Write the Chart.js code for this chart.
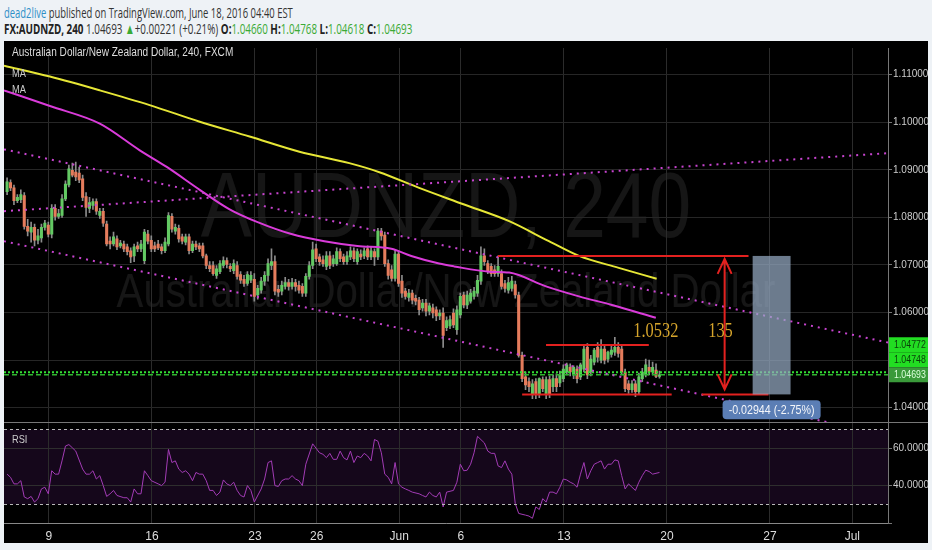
<!DOCTYPE html>
<html>
<head>
<meta charset="utf-8">
<script src="https://cdn.jsdelivr.net/npm/chart.js@4.4.0/dist/chart.umd.min.js"></script>
<style>
  html, body { margin: 0; padding: 0; background: #eef2f6; }
  body { width: 932px; height: 550px; position: relative; overflow: hidden; font-family: 'Open Sans', 'Liberation Sans', sans-serif; }
  .hdr { position: absolute; left: 4px; white-space: nowrap; transform-origin: 0 50%; color: #333; font-size: 15px; line-height: 16px; }
  #l1 { top: 4px; }
  #l2 { top: 20px; }
  .user { color: #2e8fc7; }
  .b { font-weight: bold; color: #222; }
  .g { color: #3aaa35; }
  #wrap { position: absolute; left: 4px; top: 41px; width: 924px; height: 502px; }
</style>
</head>
<body>
<div id="l1" class="hdr"><span class="user">dead2live</span> published on TradingView.com, June 18, 2016 04:40 EST</div>
<div id="l2" class="hdr"><span class="b">FX:AUDNZD, 240</span> 1.04693 <span class="g">▲</span>+0.00221 (+0.21%) <span class="b">O:</span><span class="g">1.04660</span> <span class="b">H:</span><span class="g">1.04768</span> <span class="b">L:</span><span class="g">1.04618</span> <span class="b">C:</span><span class="g">1.04693</span></div>
<div id="wrap"><canvas id="c" width="924" height="502"></canvas></div>
<script>
// 4h bars, x axis counted in trading days from Mon May 9
const firstBarDay = -2.03;
const barsPerDay = 6;

// [open, high, low, close]
const candles = [
  [1.0854,1.0883,1.0848,1.0875],[1.0873,1.0879,1.0856,1.0862],[1.0862,1.0868,1.0827,1.0835],[1.0835,1.0848,1.0831,1.0842],
  [1.0837,1.0858,1.0831,1.0848],[1.0846,1.0852,1.0775,1.0781],[1.0781,1.0796,1.0761,1.0771],[1.0769,1.0790,1.0748,1.0779],
  [1.0779,1.0786,1.0740,1.0752],[1.0752,1.0775,1.0744,1.0761],[1.0757,1.0786,1.0748,1.0779],[1.0779,1.0794,1.0773,1.0788],
  [1.0784,1.0790,1.0759,1.0765],[1.0765,1.0827,1.0757,1.0819],[1.0819,1.0827,1.0794,1.0802],[1.0802,1.0817,1.0798,1.0808],
  [1.0804,1.0848,1.0800,1.0839],[1.0839,1.0877,1.0835,1.0870],[1.0868,1.0910,1.0864,1.0902],[1.0899,1.0914,1.0885,1.0889],
  [1.0895,1.0916,1.0877,1.0885],[1.0893,1.0906,1.0873,1.0879],[1.0881,1.0889,1.0835,1.0842],[1.0844,1.0852,1.0802,1.0821],
  [1.0819,1.0842,1.0810,1.0831],[1.0825,1.0839,1.0817,1.0833],[1.0833,1.0839,1.0806,1.0813],[1.0804,1.0819,1.0798,1.0813],
  [1.0813,1.0819,1.0781,1.0788],[1.0786,1.0792,1.0740,1.0744],[1.0750,1.0759,1.0734,1.0744],[1.0744,1.0769,1.0740,1.0759],
  [1.0755,1.0761,1.0732,1.0738],[1.0740,1.0752,1.0736,1.0746],[1.0744,1.0750,1.0728,1.0734],[1.0738,1.0744,1.0721,1.0728],
  [1.0730,1.0736,1.0705,1.0717],[1.0719,1.0744,1.0707,1.0738],[1.0740,1.0748,1.0728,1.0734],[1.0734,1.0752,1.0728,1.0744],
  [1.0709,1.0775,1.0703,1.0769],[1.0765,1.0773,1.0744,1.0750],[1.0752,1.0761,1.0728,1.0734],[1.0740,1.0748,1.0728,1.0734],
  [1.0744,1.0752,1.0732,1.0736],[1.0738,1.0744,1.0723,1.0730],[1.0730,1.0757,1.0726,1.0748],[1.0744,1.0810,1.0740,1.0804],
  [1.0802,1.0808,1.0769,1.0775],[1.0771,1.0786,1.0765,1.0779],[1.0777,1.0784,1.0748,1.0755],[1.0759,1.0765,1.0744,1.0750],
  [1.0748,1.0765,1.0742,1.0759],[1.0759,1.0765,1.0723,1.0730],[1.0730,1.0750,1.0726,1.0744],[1.0744,1.0750,1.0732,1.0738],
  [1.0740,1.0746,1.0728,1.0734],[1.0740,1.0746,1.0715,1.0719],[1.0719,1.0723,1.0692,1.0699],[1.0699,1.0707,1.0686,1.0692],
  [1.0699,1.0707,1.0678,1.0682],[1.0678,1.0699,1.0672,1.0692],[1.0686,1.0709,1.0682,1.0703],[1.0699,1.0717,1.0694,1.0709],
  [1.0709,1.0715,1.0694,1.0701],[1.0697,1.0703,1.0686,1.0692],[1.0688,1.0711,1.0682,1.0703],[1.0699,1.0707,1.0670,1.0676],
  [1.0680,1.0686,1.0661,1.0668],[1.0670,1.0678,1.0655,1.0661],[1.0661,1.0686,1.0657,1.0680],[1.0668,1.0686,1.0663,1.0678],
  [1.0670,1.0682,1.0624,1.0634],[1.0637,1.0657,1.0628,1.0651],[1.0647,1.0674,1.0641,1.0666],[1.0666,1.0686,1.0657,1.0678],
  [1.0678,1.0713,1.0666,1.0703],[1.0699,1.0734,1.0690,1.0707],[1.0707,1.0719,1.0637,1.0645],[1.0649,1.0657,1.0634,1.0643],
  [1.0645,1.0666,1.0637,1.0657],[1.0655,1.0674,1.0649,1.0663],[1.0663,1.0670,1.0647,1.0655],[1.0655,1.0672,1.0649,1.0663],
  [1.0663,1.0670,1.0645,1.0655],[1.0657,1.0666,1.0641,1.0647],[1.0655,1.0661,1.0634,1.0641],[1.0641,1.0682,1.0634,1.0676],
  [1.0676,1.0707,1.0670,1.0699],[1.0699,1.0748,1.0692,1.0732],[1.0734,1.0744,1.0707,1.0713],[1.0717,1.0723,1.0699,1.0707],
  [1.0711,1.0719,1.0697,1.0703],[1.0697,1.0728,1.0690,1.0719],[1.0719,1.0728,1.0692,1.0699],[1.0703,1.0721,1.0697,1.0713],
  [1.0703,1.0736,1.0699,1.0728],[1.0728,1.0734,1.0707,1.0713],[1.0717,1.0723,1.0701,1.0707],[1.0707,1.0728,1.0701,1.0719],
  [1.0717,1.0738,1.0711,1.0730],[1.0730,1.0736,1.0707,1.0713],[1.0707,1.0734,1.0701,1.0728],[1.0723,1.0732,1.0711,1.0717],
  [1.0719,1.0736,1.0713,1.0730],[1.0734,1.0740,1.0711,1.0717],[1.0717,1.0738,1.0711,1.0730],[1.0728,1.0734,1.0699,1.0717],
  [1.0717,1.0777,1.0711,1.0771],[1.0771,1.0777,1.0752,1.0761],[1.0763,1.0769,1.0697,1.0703],[1.0703,1.0711,1.0670,1.0678],
  [1.0690,1.0699,1.0666,1.0672],[1.0672,1.0732,1.0666,1.0723],[1.0723,1.0730,1.0655,1.0661],[1.0666,1.0678,1.0632,1.0641],
  [1.0645,1.0651,1.0628,1.0634],[1.0632,1.0649,1.0624,1.0641],[1.0641,1.0647,1.0618,1.0626],[1.0630,1.0637,1.0616,1.0624],
  [1.0626,1.0632,1.0595,1.0606],[1.0610,1.0628,1.0603,1.0620],[1.0620,1.0628,1.0593,1.0603],[1.0603,1.0620,1.0595,1.0614],
  [1.0610,1.0618,1.0589,1.0599],[1.0606,1.0612,1.0583,1.0593],[1.0593,1.0606,1.0585,1.0599],[1.0599,1.0610,1.0527,1.0552],
  [1.0568,1.0591,1.0562,1.0583],[1.0572,1.0593,1.0566,1.0585],[1.0599,1.0608,1.0568,1.0574],[1.0564,1.0614,1.0554,1.0606],
  [1.0595,1.0641,1.0589,1.0634],[1.0637,1.0643,1.0610,1.0616],[1.0616,1.0645,1.0608,1.0637],[1.0624,1.0649,1.0620,1.0641],
  [1.0634,1.0653,1.0628,1.0645],[1.0641,1.0678,1.0634,1.0668],[1.0666,1.0738,1.0659,1.0719],[1.0719,1.0734,1.0699,1.0707],
  [1.0703,1.0709,1.0682,1.0688],[1.0697,1.0703,1.0676,1.0682],[1.0690,1.0699,1.0676,1.0682],[1.0682,1.0719,1.0676,1.0697],
  [1.0682,1.0690,1.0649,1.0655],[1.0661,1.0668,1.0643,1.0651],[1.0647,1.0674,1.0641,1.0663],[1.0651,1.0676,1.0645,1.0666],
  [1.0659,1.0666,1.0630,1.0637],[1.0637,1.0643,1.0506,1.0510],[1.0510,1.0517,1.0455,1.0461],[1.0465,1.0475,1.0438,1.0448],
  [1.0455,1.0463,1.0434,1.0444],[1.0428,1.0459,1.0419,1.0450],[1.0455,1.0461,1.0419,1.0428],[1.0428,1.0463,1.0421,1.0461],
  [1.0459,1.0465,1.0434,1.0440],[1.0428,1.0465,1.0419,1.0459],[1.0459,1.0467,1.0421,1.0428],[1.0444,1.0469,1.0434,1.0461],
  [1.0461,1.0471,1.0434,1.0444],[1.0452,1.0477,1.0444,1.0469],[1.0461,1.0490,1.0455,1.0481],[1.0475,1.0494,1.0469,1.0490],
  [1.0485,1.0492,1.0467,1.0475],[1.0469,1.0488,1.0461,1.0485],[1.0481,1.0488,1.0452,1.0461],[1.0465,1.0494,1.0459,1.0490],
  [1.0481,1.0531,1.0475,1.0523],[1.0527,1.0535,1.0461,1.0469],[1.0475,1.0510,1.0467,1.0502],[1.0496,1.0525,1.0490,1.0521],
  [1.0527,1.0537,1.0496,1.0506],[1.0500,1.0543,1.0494,1.0523],[1.0523,1.0531,1.0492,1.0500],[1.0502,1.0519,1.0496,1.0517],
  [1.0512,1.0531,1.0506,1.0521],[1.0517,1.0548,1.0510,1.0527],[1.0527,1.0537,1.0506,1.0514],[1.0523,1.0531,1.0469,1.0475],
  [1.0475,1.0481,1.0434,1.0440],[1.0450,1.0457,1.0430,1.0438],[1.0438,1.0457,1.0432,1.0450],[1.0450,1.0457,1.0423,1.0434],
  [1.0434,1.0473,1.0428,1.0465],[1.0461,1.0483,1.0455,1.0475],[1.0471,1.0502,1.0465,1.0490],[1.0485,1.0500,1.0469,1.0475],
  [1.0475,1.0496,1.0469,1.0485],[1.0479,1.0492,1.0463,1.0466],[1.0466,1.0477,1.0462,1.0469]
];

// moving averages: [day, price]
const maSlow = [[-2.18,1.1119],[0.05,1.1096],[2.47,1.1067],[4.89,1.1036],[7.32,1.1001],[9.74,1.0970],[12.16,1.0938],
  [14.58,1.0914],[16.04,1.0895],[17.97,1.0862],[20.16,1.0827],[22.34,1.0792],[24.27,1.0750],[25.73,1.0719],[27.66,1.0694],[29.5,1.0671]];
const maFast = [[-2.18,1.1067],[0.05,1.1034],[2.47,1.0997],[4.41,1.0941],[5.72,1.0906],[7.32,1.0858],[8.77,1.0817],
  [10.13,1.0790],[11.77,1.0765],[13.37,1.0750],[14.97,1.0740],[16.62,1.0734],[17.59,1.0719],[18.94,1.0703],[19.67,1.0697],
  [21.37,1.0686],[22.34,1.0684],[24.13,1.0655],[25.73,1.0634],[27.33,1.0616],[29.46,1.0589]];

// RSI: bar index and value
const rsiBars = [0,1,2,3,4,5,6,7,8,9,10,11,12,13,14,15,16,17,18,19,20,22,23,24,25,26,27,28,29,30,31,32,34,35,36,37,38,39,
  40,41,42,44,45,46,47,48,49,50,51,52,53,54,55,56,57,58,59,60,61,62,63,64,65,66,67,68,69,70,71,72,74,75,76,77,78,79,80,81,
  82,83,84,85,86,87,89,91,92,93,94,95,96,97,98,99,100,101,102,103,104,105,106,107,108,109,110,111,112,113,114,115,116,117,
  118,120,121,122,123,124,125,126,127,128,130,131,132,133,134,135,136,137,139,140,141,142,143,144,145,146,147,148,149,151,
  152,153,154,155,156,157,158,159,160,161,162,163,164,165,166,167,168,169,170,171,172,173,174,175,176,177,178,179,180,181,
  182,183,184,185,186,187,188,190];
const rsiVals = [46.1,44.4,40.9,40.9,42.6,33.9,33.0,34.2,31.2,33.0,38.2,39.1,35.6,47.9,46.1,46.1,53.2,61.1,61.9,60.2,58.4,
  48.8,46.1,46.1,47.9,43.5,45.3,40.0,34.2,35.6,37.4,34.7,33.5,33.5,31.2,38.2,35.6,35.6,47.9,45.3,42.6,40.9,40.0,41.8,59.3,
  52.3,53.2,48.8,47.0,47.9,46.1,42.6,47.0,46.1,46.1,42.6,37.4,37.4,34.7,36.5,43.0,40.9,40.0,41.8,37.4,34.7,33.9,40.0,37.4,
  31.2,38.2,43.5,52.3,53.2,40.0,39.5,42.6,43.5,43.5,45.3,43.5,42.6,40.0,51.4,62.3,57.5,56.7,54.9,57.2,54.0,54.0,58.4,54.9,
  53.7,58.4,52.3,55.8,54.9,57.2,55.8,53.2,64.6,63.7,57.5,46.1,44.4,40.9,52.3,40.9,39.1,38.2,37.4,36.5,35.6,34.7,33.9,36.5,
  34.7,33.9,36.5,28.6,36.5,37.4,41.8,51.4,47.9,48.2,51.4,57.5,66.3,62.8,58.4,57.2,57.2,50.5,49.6,53.2,48.8,46.1,30.4,25.1,
  24.2,23.7,22.5,28.6,27.2,33.0,31.2,36.5,36.5,35.6,39.1,43.5,43.0,41.8,40.9,39.1,46.1,52.3,43.5,47.9,51.4,52.3,53.2,48.8,
  51.4,51.4,53.7,53.2,45.3,38.2,40.9,39.1,37.4,41.8,45.3,48.2,47.5,46.1,47.0];

// drawings: [day, price]
const upperChannel = [[-2.18,1.0943],[40.73,1.0537]];
const lowerChannel = [[-2.18,1.0750],[37.84,1.0369]];
const risingLine = [[-2.18,1.0813],[40.73,1.0935]];
const targetLine = [[21.80,1.0719],[33.96,1.0719]];
const rangeHigh = [[24.13,1.0532],[29.12,1.0532]];
const rangeLow = [[22.97,1.0428],[30.23,1.0428]];
const rangeLow2 = [[31.69,1.0428],[34.93,1.0428]];
const arrowDay = 32.80;
const arrowPrices = [1.0719, 1.0428];
const boxDays = [34.16, 36.0];
const boxPrices = [1.0428, 1.0719];
const lastHigh = 1.04748;
const lastClose = 1.04693;
const axisMarks = [1.04772, 1.04748, 1.04693];
const noteTexts = [["1.0532", 29.46, 1.0548], ["135", 32.60, 1.0548]];
const changeLabel = ["-0.02944 (-2.75%)", 35.08, 1.0396];

// axes
const dayMin = -2.18, dayMax = 40.73;
const priceMin = 1.0369, priceMax = 1.1156;
const rsiMin = 20, rsiMax = 73.7;
const tickDays = [0, 5, 10, 13, 17, 20, 25, 30, 35, 39];
const tickLabels = ["9", "16", "23", "26", "Jun", "6", "13", "20", "27", "Jul"];
const priceTicks = [1.04, 1.05, 1.06, 1.07, 1.08, 1.09, 1.10, 1.11];
const rsiTicks = [20, 40, 60];

const upColor = "#63c963";
const downColor = "#e57c5c";
const red = "#e3211f";
const narrow = "'Liberation Sans Narrow', 'Arial Narrow', 'Liberation Sans', sans-serif";

function fitLine(id, width) {
  const el = document.getElementById(id);
  el.style.transform = `scaleX(${width / el.offsetWidth})`;
}
fitLine("l1", 289);
fitLine("l2", 408);

const xOf = i => firstBarDay + i / barsPerDay;
const pts = arr => arr.map(p => ({ x: p[0], y: p[1] }));

function squeezeText(ctx, text, x, y, font, color, sx, align, base) {
  ctx.save();
  ctx.font = font;
  ctx.fillStyle = color;
  ctx.textBaseline = base || "middle";
  ctx.textAlign = "left";
  const w = ctx.measureText(text).width * sx;
  let left = x;
  if (align === "center") left = x - w / 2;
  if (align === "right") left = x - w;
  ctx.translate(left, y);
  ctx.scale(sx, 1);
  ctx.fillText(text, 0, 0);
  ctx.restore();
}

const decor = {
  id: "decor",
  beforeDraw(chart) {
    const { ctx, chartArea: a } = chart;
    const ys = chart.scales.y, rs = chart.scales.rsi;
    ctx.save();
    ctx.fillStyle = "#000";
    ctx.fillRect(0, 0, chart.width, chart.height);
    const y70 = rs.getPixelForValue(70), y30 = rs.getPixelForValue(30);
    ctx.fillStyle = "#15071b";
    ctx.fillRect(a.left, y70, a.right - a.left, y30 - y70);
    const cx = (a.left + a.right) / 2;
    const wm = "rgba(255,255,255,0.085)";
    squeezeText(ctx, "AUDNZD, 240", cx, ys.top + 189, "93px 'Liberation Sans'", wm, 0.825, "center", "alphabetic");
    squeezeText(ctx, "Australian Dollar/New Zealand Dollar", cx, ys.top + 259, "49px 'Liberation Sans'", wm, 0.82, "center", "alphabetic");
    ctx.restore();
  },
  afterDatasetsDraw(chart) {
    const { ctx, chartArea: a } = chart;
    const xs = chart.scales.x, ys = chart.scales.y, rs = chart.scales.rsi;
    ctx.save();
    // RSI bands
    ctx.strokeStyle = "#b8b8b8";
    ctx.lineWidth = 1;
    ctx.setLineDash([3, 3]);
    [70, 30].forEach(v => {
      const yy = Math.round(rs.getPixelForValue(v)) + 0.5;
      ctx.beginPath(); ctx.moveTo(a.left, yy); ctx.lineTo(a.right, yy); ctx.stroke();
    });
    ctx.setLineDash([]);
    // pane separator
    ctx.strokeStyle = "#777";
    ctx.beginPath(); ctx.moveTo(0, Math.round(ys.bottom) + 0.5); ctx.lineTo(chart.width, Math.round(ys.bottom) + 0.5); ctx.stroke();

    // projection box
    const bx0 = xs.getPixelForValue(boxDays[0]), bx1 = xs.getPixelForValue(boxDays[1]);
    const by0 = ys.getPixelForValue(boxPrices[1]), by1 = ys.getPixelForValue(boxPrices[0]);
    ctx.fillStyle = "rgba(150,170,195,0.72)";
    ctx.fillRect(bx0, by0, bx1 - bx0, by1 - by0);

    // double arrow
    const ax = xs.getPixelForValue(arrowDay);
    const yT = ys.getPixelForValue(arrowPrices[0]) + 3;
    const yB = ys.getPixelForValue(arrowPrices[1]) - 5;
    ctx.strokeStyle = red;
    ctx.lineWidth = 2;
    ctx.beginPath();
    ctx.moveTo(ax, yT); ctx.lineTo(ax, yB);
    ctx.moveTo(ax - 7, yT + 15); ctx.lineTo(ax, yT); ctx.lineTo(ax + 7, yT + 15);
    ctx.moveTo(ax - 7, yB - 15); ctx.lineTo(ax, yB); ctx.lineTo(ax + 7, yB - 15);
    ctx.stroke();

    // notes
    noteTexts.forEach(t => {
      squeezeText(ctx, t[0], xs.getPixelForValue(t[1]), ys.getPixelForValue(t[2]), "20px 'Liberation Serif'", "#d6a52c", 0.82, "center", "alphabetic");
    });

    // change label
    const lx = xs.getPixelForValue(changeLabel[1]), ly = ys.getPixelForValue(changeLabel[2]);
    ctx.fillStyle = "#5b7eb5";
    ctx.beginPath();
    ctx.roundRect(lx - 49, ly - 9.5, 98, 19, 4);
    ctx.fill();
    squeezeText(ctx, changeLabel[0], lx, ly + 0.5, "13px 'Liberation Sans'", "#f4f6fa", 0.82, "center");
    ctx.restore();
  },
  afterDraw(chart) {
    const { ctx } = chart;
    const ys = chart.scales.y, rs = chart.scales.rsi;
    ctx.save();
    // last value marks on the price axis
    const yc = ys.getPixelForValue(lastClose);
    const marks = [
      [axisMarks[0], yc - 30, "#22dd22", "#0a3d0a"],
      [axisMarks[1], yc - 15, "#22dd22", "#0a3d0a"],
      [axisMarks[2], yc, "#3a9a3a", "#dcffdc"]
    ];
    marks.forEach(m => {
      ctx.fillStyle = m[2];
      ctx.fillRect(ys.left + 1, m[1] - 7.5, ys.right - ys.left - 1, 15);
      squeezeText(ctx, m[0].toFixed(5), ys.left + 6, m[1] + 0.5, "11px 'Liberation Sans'", m[3], 0.8, "left");
    });
    // pane legends
    squeezeText(ctx, "Australian Dollar/New Zealand Dollar, 240, FXCM", 8, 12, "12px 'Liberation Sans'", "#dddddd", 0.84, "left");
    squeezeText(ctx, "MA", 8, 33, "11px 'Liberation Sans'", "#cccccc", 0.84, "left");
    squeezeText(ctx, "MA", 8, 49, "11px 'Liberation Sans'", "#cccccc", 0.84, "left");
    squeezeText(ctx, "RSI", 8, rs.top + 17, "11px 'Liberation Sans'", "#cccccc", 0.84, "left");
    ctx.restore();
  }
};

const lineDs = (data, color, width, dash, order, extra) => Object.assign({
  type: "line", data: pts(data), borderColor: color, borderWidth: width, borderDash: dash,
  pointRadius: 0, fill: false, tension: 0, order, yAxisID: "y"
}, extra || {});

const fullWidth = v => [[dayMin, v], [dayMax, v]];

new Chart(document.getElementById("c"), {
  type: "line",
  data: {
    datasets: [
      lineDs(targetLine, red, 2, [], 0),
      lineDs(rangeHigh, red, 2, [], 0),
      lineDs(rangeLow, red, 2, [], 0),
      lineDs(rangeLow2, red, 2, [], 0),
      lineDs(upperChannel, "#c844d0", 2, [2, 5], 1),
      lineDs(lowerChannel, "#c844d0", 2, [2, 5], 1),
      lineDs(risingLine, "#c844d0", 2, [2, 5], 1),
      lineDs(fullWidth(lastHigh), "#33e033", 2, [2, 2], 2),
      lineDs(fullWidth(lastClose), "#2fb52f", 1.5, [5, 3], 2),
      lineDs(maSlow, "#e6e636", 2, [], 3, { cubicInterpolationMode: "monotone" }),
      lineDs(maFast, "#d93bd9", 2, [], 3, { cubicInterpolationMode: "monotone" }),
      {
        type: "bar", yAxisID: "y", order: 4, grouped: false, barThickness: 2.4, minBarLength: 1,
        data: candles.map((c, i) => ({ x: xOf(i), y: [Math.min(c[0], c[3]), Math.max(c[0], c[3])] })),
        backgroundColor: candles.map(c => (c[3] >= c[0] ? upColor : downColor))
      },
      {
        type: "bar", yAxisID: "y", order: 5, grouped: false, barThickness: 1,
        data: candles.map((c, i) => ({ x: xOf(i), y: [c[2], c[1]] })),
        backgroundColor: "#8c8c8c"
      },
      {
        type: "line", yAxisID: "rsi", order: 6, borderColor: "#a23bb5", borderWidth: 1, pointRadius: 0, tension: 0,
        data: rsiBars.map((b, k) => ({ x: xOf(b), y: rsiVals[k] }))
      }
    ]
  },
  options: {
    responsive: false,
    devicePixelRatio: 1,
    animation: false,
    events: [],
    layout: { padding: 0 },
    plugins: { legend: { display: false }, tooltip: { enabled: false } },
    scales: {
      x: {
        type: "linear", min: dayMin, max: dayMax, offset: false,
        afterBuildTicks: s => { s.ticks = tickDays.map(v => ({ value: v })); },
        afterFit: s => { s.height = 20; },
        grid: { color: "#2b2b2b", drawTicks: false, offset: false },
        border: { color: "#888" },
        ticks: {
          color: "#dddddd", padding: 6, autoSkip: false, maxRotation: 0,
          font: { family: narrow, size: 12 },
          callback: v => tickLabels[tickDays.indexOf(v)]
        }
      },
      y: {
        type: "linear", position: "right", stack: "panes", stackWeight: 380,
        min: priceMin, max: priceMax,
        afterBuildTicks: s => { s.ticks = priceTicks.map(v => ({ value: v })); },
        afterFit: s => { s.width = 40; },
        grid: { color: "#262626", tickColor: "#777", tickLength: 4 },
        border: { color: "#777" },
        ticks: { color: "#cccccc", padding: 1, font: { family: narrow, size: 10 }, callback: v => v.toFixed(5) }
      },
      rsi: {
        type: "linear", position: "right", stack: "panes", stackWeight: 102,
        min: rsiMin, max: rsiMax,
        afterBuildTicks: s => { s.ticks = rsiTicks.map(v => ({ value: v })); },
        afterFit: s => { s.width = 40; },
        grid: { color: "#2e2e2e", tickColor: "#777", tickLength: 4 },
        border: { color: "#777" },
        ticks: { color: "#cccccc", padding: 1, font: { family: narrow, size: 10 }, callback: v => (v === 20 ? "" : v.toFixed(4)) }
      }
    }
  },
  plugins: [decor]
});
</script>
</body>
</html>
